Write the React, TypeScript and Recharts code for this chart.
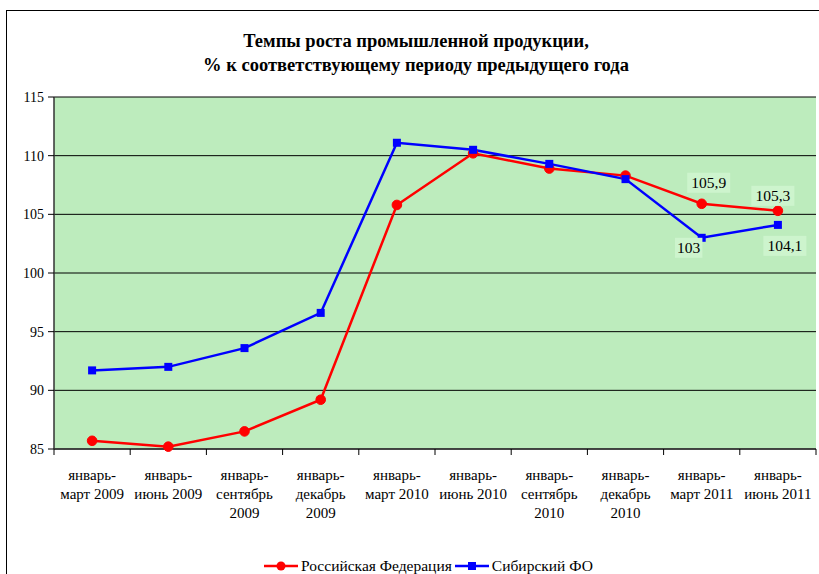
import { CartesianGrid, LabelList, Line, LineChart, XAxis, YAxis } from "recharts";

const periods = [
  "январь-|март 2009",
  "январь-|июнь 2009",
  "январь-|сентябрь|2009",
  "январь-|декабрь|2009",
  "январь-|март 2010",
  "январь-|июнь 2010",
  "январь-|сентябрь|2010",
  "январь-|декабрь|2010",
  "январь-|март 2011",
  "январь-|июнь 2011",
];
const rfValues = [85.7, 85.2, 86.5, 89.2, 105.8, 110.2, 108.9, 108.3, 105.9, 105.3];
const sfoValues = [91.7, 92.0, 93.6, 96.6, 111.1, 110.5, 109.3, 108.0, 103, 104.1];
const yTicks = [85, 90, 95, 100, 105, 110, 115];
const labeledIdx = [8, 9];

const data = periods.map((p, i) => ({ period: p, rf: rfValues[i], sfo: sfoValues[i] }));

const W = 819;
const H = 574;
const PLOT_LEFT = 54;
const PLOT_RIGHT = 816;
const PLOT_TOP = 97;
const PLOT_BOTTOM = 449;
const BAND = (PLOT_RIGHT - PLOT_LEFT) / periods.length;
const FONT = '"Liberation Serif", "Times New Roman", serif';

// label placement relative to the point: [dx, dy]
const rfLabelOffset: Record<number, [number, number]> = { 8: [7, -21], 9: [-5, -15] };
const sfoLabelOffset: Record<number, [number, number]> = { 8: [-13, 10], 9: [7, 21] };

function XTick(props: any) {
  const { x, y, payload, index } = props;
  const lines = String(payload.value).split("|");
  const left = x - BAND / 2;
  return (
    <g>
      <line x1={left} x2={left} y1={y} y2={y + 6} stroke="#000" />
      {index === periods.length - 1 && (
        <line x1={x + BAND / 2} x2={x + BAND / 2} y1={y} y2={y + 6} stroke="#000" />
      )}
      {lines.map((l, k) => (
        <text key={k} x={x} y={y + 31 + k * 19} textAnchor="middle" fontSize={15} fontFamily={FONT} fill="#000">
          {l}
        </text>
      ))}
    </g>
  );
}

function RedDot(props: any) {
  const { cx, cy, index } = props;
  return <circle key={"r" + index} cx={cx} cy={cy} r={4.8} fill="#ff0000" stroke="#ff0000" />;
}

function BlueDot(props: any) {
  const { cx, cy, index } = props;
  return <rect key={"b" + index} x={cx - 4} y={cy - 4} width={8} height={8} fill="#0000ff" />;
}

function makeLabel(offsets: Record<number, [number, number]>) {
  return (props: any) => {
    const { x, y, value, index } = props;
    if (!labeledIdx.includes(index)) return null;
    const [dx, dy] = offsets[index];
    const txt = String(value).replace(".", ",");
    const w = txt.length * 7.8 + 4;
    return (
      <g key={index}>
        <rect x={x + dx - w / 2} y={y + dy - 10} width={w} height={20} fill="#cdf4cd" />
        <text x={x + dx} y={y + dy + 5} textAnchor="middle" fontSize={15.5} fontFamily={FONT} fill="#000">
          {txt}
        </text>
      </g>
    );
  };
}

export default function App() {
  return (
    <div style={{ position: "absolute", left: 0, top: 0, width: W, height: H, background: "#fff", overflow: "hidden" }}>
      <div
        style={{
          position: "absolute",
          left: 6,
          top: 10,
          width: W,
          height: H,
          borderLeft: "1.5px solid #000",
          borderTop: "1.5px solid #000",
        }}
      />
      <div
        style={{
          position: "absolute",
          left: 0,
          top: 29,
          width: 832,
          textAlign: "center",
          fontFamily: FONT,
          fontWeight: "bold",
          fontSize: 18.5,
          lineHeight: "24px",
          color: "#000",
        }}
      >
        Темпы роста промышленной продукции,
        <br />% к соответствующему периоду предыдущего года
      </div>
      <div style={{ position: "absolute", left: 0, top: 0 }}>
        <LineChart
          width={W}
          height={H}
          data={data}
          margin={{ top: PLOT_TOP, right: W - PLOT_RIGHT, bottom: 0, left: 0 }}
        >
          <CartesianGrid vertical={false} fill="#bdecbd" stroke="#000" strokeOpacity={1} />
          <XAxis
            dataKey="period"
            height={H - PLOT_BOTTOM}
            interval={0}
            padding={{ left: BAND / 2, right: BAND / 2 }}
            tickSize={0}
            tickMargin={0}
            tickLine={false}
            axisLine={{ stroke: "#333", strokeWidth: 1.5 }}
            tick={<XTick />}
          />
          <YAxis
            width={PLOT_LEFT}
            domain={[85, 115]}
            ticks={yTicks}
            interval={0}
            tickSize={6}
            tickMargin={4}
            tickLine={{ stroke: "#000" }}
            axisLine={{ stroke: "#333", strokeWidth: 1.5 }}
            tick={{ fontSize: 14, fontFamily: FONT, fill: "#000" }}
          />
          <YAxis
            yAxisId="r"
            orientation="right"
            width={0}
            tick={false}
            tickLine={false}
            axisLine={{ stroke: "#808080" }}
          />
          <Line
            dataKey="rf"
            stroke="#ff0000"
            strokeWidth={2.5}
            dot={<RedDot />}
            isAnimationActive={false}
          >
            <LabelList dataKey="rf" content={makeLabel(rfLabelOffset)} />
          </Line>
          <Line
            dataKey="sfo"
            stroke="#0000ff"
            strokeWidth={2.5}
            dot={<BlueDot />}
            isAnimationActive={false}
          >
            <LabelList dataKey="sfo" content={makeLabel(sfoLabelOffset)} />
          </Line>
        </LineChart>
      </div>
      <div
        style={{
          position: "absolute",
          left: 264,
          top: 556,
          display: "flex",
          alignItems: "center",
          fontFamily: FONT,
          fontSize: 15.5,
          lineHeight: "20px",
          color: "#000",
          whiteSpace: "nowrap",
        }}
      >
        <svg width={34} height={12}>
          <line x1={0} x2={34} y1={6} y2={6} stroke="#ff0000" strokeWidth={2.5} />
          <circle cx={17} cy={6} r={4.5} fill="#ff0000" />
        </svg>
        <span style={{ marginLeft: 3, marginRight: 3 }}>Российская Федерация</span>
        <svg width={34} height={12}>
          <line x1={0} x2={34} y1={6} y2={6} stroke="#0000ff" strokeWidth={2.5} />
          <rect x={13} y={2} width={8} height={8} fill="#0000ff" />
        </svg>
        <span style={{ marginLeft: 3 }}>Сибирский ФО</span>
      </div>
    </div>
  );
}
